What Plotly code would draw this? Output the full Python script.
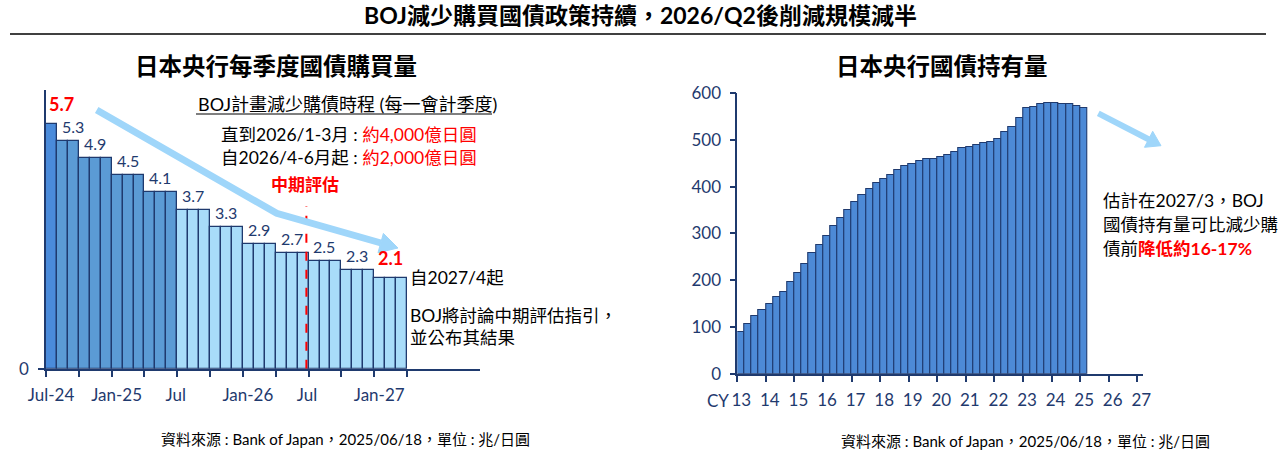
import plotly.graph_objects as go

W, H = 1285, 451
NAVY = "#1f3a6e"
RED = "#ff0000"
FONT = "Lato, 'Noto Sans CJK TC', sans-serif"
NB = "\u00a0"

# left chart: monthly JGB purchases (trillion yen), Jul-24 .. Mar-27
months = ["Jul-24", "Aug-24", "Sep-24", "Oct-24", "Nov-24", "Dec-24",
          "Jan-25", "Feb-25", "Mar-25", "Apr-25", "May-25", "Jun-25",
          "Jul-25", "Aug-25", "Sep-25", "Oct-25", "Nov-25", "Dec-25",
          "Jan-26", "Feb-26", "Mar-26", "Apr-26", "May-26", "Jun-26",
          "Jul-26", "Aug-26", "Sep-26", "Oct-26", "Nov-26", "Dec-26",
          "Jan-27", "Feb-27", "Mar-27"]
purchases = [5.7, 5.3, 5.3, 4.9, 4.9, 4.9, 4.5, 4.5, 4.5, 4.1, 4.1, 4.1,
             3.7, 3.7, 3.7, 3.3, 3.3, 3.3, 2.9, 2.9, 2.9, 2.7, 2.7, 2.7,
             2.5, 2.5, 2.5, 2.3, 2.3, 2.3, 2.1, 2.1, 2.1]
left_ticktext = ["Jul-24", "", "Jan-25", "", "Jul", "", "Jan-26", "", "Jul", "", "Jan-27", ""]

# right chart: quarterly BOJ JGB holdings (trillion yen), 2013Q1 .. 2025Q1
holdings = [89, 107, 123, 137, 150, 163, 175, 197, 215, 235, 257, 275,
            294, 315, 332, 350, 367, 382, 394, 407, 416, 425, 436, 445,
            449, 455, 458, 460, 463, 467, 473, 482, 485, 488, 493, 496,
            502, 517, 527, 546, 567, 570, 576, 579, 578, 577, 576, 573, 569]
year_labels = ["13", "14", "15", "16", "17", "18", "19", "20",
               "21", "22", "23", "24", "25", "26", "27"]


def px(x):
    return x / W


def py(y):
    return 1 - y / H


x_left = [i + 0.5 for i in range(len(purchases))]
colors_left = ["#4a8bdb"] + ["#5b9bd5"] * 11 + ["#a8dcf9"] * (len(purchases) - 12)
x_right = [2013 + i / 4 + 0.125 for i in range(len(holdings))]
# short "Jul" labels sit nearly on their tick in the original, pad them to undo the shift
left_ticks_shown = [t + NB * 3 if t == "Jul" else t for t in left_ticktext]

fig = go.Figure()
fig.add_trace(go.Bar(x=x_left, y=purchases, width=1, hovertext=months,
                     marker=dict(color=colors_left, line=dict(color=NAVY, width=1.3)),
                     xaxis="x", yaxis="y", showlegend=False))
fig.add_trace(go.Bar(x=x_right, y=holdings, width=0.25,
                     marker=dict(color="#4d8ad6", line=dict(color=NAVY, width=1.1)),
                     xaxis="x2", yaxis="y2", showlegend=False))

axis_common = dict(showline=True, linecolor=NAVY, linewidth=1.6, ticks="outside",
                   ticklen=6, tickcolor=NAVY, tickwidth=1.6, showgrid=False,
                   zeroline=False, automargin=False,
                   tickfont=dict(size=17, color=NAVY))

fig.update_layout(
    template="none",
    width=W, height=H, autosize=False,
    margin=dict(l=0, r=0, t=0, b=0, pad=0),
    paper_bgcolor="white", plot_bgcolor="white",
    font=dict(family=FONT, color="black"),
    bargap=0,
    xaxis=dict(domain=[px(46), px(480)], range=[0, 39.67], anchor="y",
               tickvals=list(range(0, 34, 3)), ticktext=left_ticks_shown,
               ticklabelshift=5, ticklabelstandoff=4, **axis_common),
    yaxis=dict(domain=[py(368.7), py(90)], range=[0, 6.48], anchor="x",
               tickvals=[0], ticklabelstandoff=6, **axis_common),
    xaxis2=dict(domain=[px(737.3), px(1143)], range=[2013, 2027.2], anchor="y2",
                tickvals=list(range(2013, 2028)), ticktext=year_labels,
                ticklabelshift=4, ticklabelstandoff=4, **axis_common),
    yaxis2=dict(domain=[py(373.7), py(93)], range=[0, 600], anchor="x2",
                dtick=100, ticklabelstandoff=5, **axis_common),
)

ann = []


def text(x, y, s, size=17, color="black", bold=False, xanchor="left"):
    if bold:
        s = "<b>" + s + "</b>"
    ann.append(dict(x=px(x), y=py(y), xref="paper", yref="paper", text=s,
                    showarrow=False, xanchor=xanchor, yanchor="middle",
                    font=dict(size=size, color=color, family=FONT)))


# titles
text(640, 15, "BOJ減少購買國債政策持續，2026/Q2後削減規模減半", size=23, bold=True, xanchor="center")
text(276, 66, "日本央行每季度國債購買量", size=23.5, bold=True, xanchor="center")
text(942, 66, "日本央行國債持有量", size=23.5, bold=True, xanchor="center")

# step value labels on the left chart
prev = None
for i, v in enumerate(purchases):
    if v == prev:
        continue
    prev = v
    edge = v in (purchases[0], purchases[-1])
    ann.append(dict(x=i + 1.45, y=v, xref="x", yref="y", text=f"<b>{v}</b>" if edge else f"{v}",
                    showarrow=False, xanchor="center", yanchor="bottom",
                    yshift=7 if edge else 3,
                    font=dict(size=18 if edge else 16, color=RED if edge else NAVY, family=FONT)))

# left chart notes
red = "<span style='color:#ff0000'>{}</span>"
text(196, 104, "BOJ計畫減少購債時程 (每一會計季度)", size=18)
text(219, 134, "直到2026/1-3月 : " + red.format("約4,000億日圓"), size=17.5)
text(219, 157, "自2026/4-6月起 : " + red.format("約2,000億日圓"), size=17.5)
text(305, 185, "中期評估", size=17, color=RED, bold=True, xanchor="center")
text(408, 277, "自2027/4起", size=17.5)
text(408, 315, "BOJ將討論中期評估指引，", size=17.5)
text(408, 337, "並公布其結果", size=17.5)

# right chart note
text(1101, 200, "估計在2027/3，BOJ", size=17.5)
text(1101, 224, "國債持有量可比減少購", size=17.5)
text(1101, 248, "債前" + red.format("<b>降低約16-17%</b>"), size=17.5)
text(718, 400, "CY", size=17, color=NAVY, xanchor="center")

# sources
text(345, 439, "資料來源 : Bank of Japan，2025/06/18，單位 : 兆/日圓", size=15, xanchor="center")
text(1025, 441, "資料來源 : Bank of Japan，2025/06/18，單位 : 兆/日圓", size=15, xanchor="center")

fig.update_layout(annotations=ann)


def path(points, close=False):
    s = "M " + " L ".join(f"{px(x):.5f},{py(y):.5f}" for x, y in points)
    return s + (" Z" if close else "")


ARROW = "#9fd6fa"
shapes = [
    dict(type="line", xref="paper", yref="paper", x0=px(10), x1=px(1266), y0=py(34), y1=py(34),
         line=dict(color="black", width=1.5)),
    dict(type="line", xref="paper", yref="paper", x0=px(196), x1=px(492), y0=py(114), y1=py(114),
         line=dict(color="black", width=1.2)),
    dict(type="line", xref="x", yref="y", x0=23.8, x1=23.8, y0=0, y1=3.78,
         line=dict(color=RED, width=2, dash="dash")),
    # trend arrows
    dict(type="path", xref="paper", yref="paper",
         path=path([(96.7, 110), (276.7, 213.3), (381, 243)]),
         line=dict(color=ARROW, width=7)),
    dict(type="path", xref="paper", yref="paper",
         path=path([(383.4, 233.4), (398, 248), (378, 252.7)], close=True),
         fillcolor=ARROW, line=dict(color=ARROW, width=1)),
    dict(type="path", xref="paper", yref="paper",
         path=path([(1098.3, 113.3), (1149, 139.5)]),
         line=dict(color=ARROW, width=6)),
    dict(type="path", xref="paper", yref="paper",
         path=path([(1152.7, 131.3), (1161, 145.7), (1144.5, 147.3)], close=True),
         fillcolor=ARROW, line=dict(color=ARROW, width=1)),
]
fig.update_layout(shapes=shapes)

fig.write_html("out.html", config={"displayModeBar": False},
               post_script="document.body.style.margin='0';")
